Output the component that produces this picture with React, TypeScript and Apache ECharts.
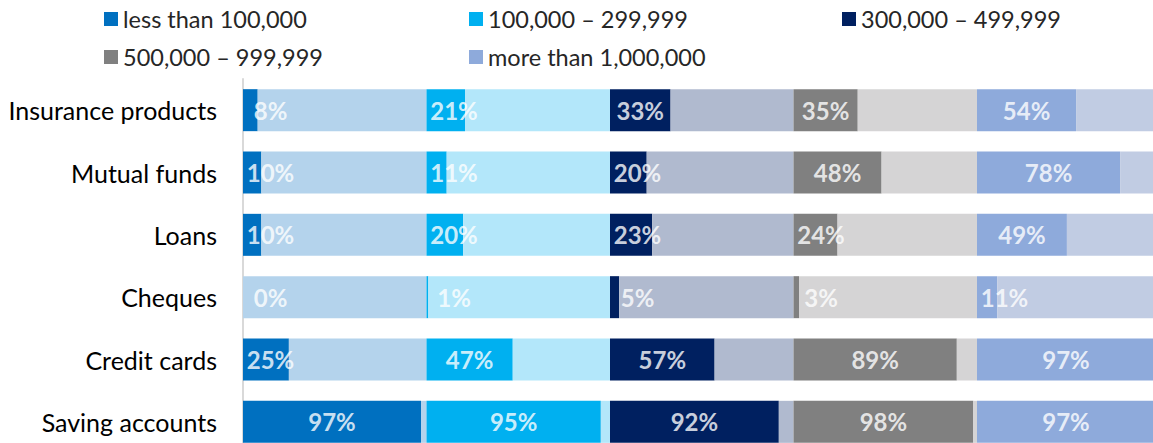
import React, { useEffect, useRef } from "react";
import * as echarts from "echarts";

const categories = [
  "Insurance products",
  "Mutual funds",
  "Loans",
  "Cheques",
  "Credit cards",
  "Saving accounts",
];

const groupNames = [
  "less than 100,000",
  "100,000 – 299,999",
  "300,000 – 499,999",
  "500,000 – 999,999",
  "more than 1,000,000",
];

const lessThan100k = [8, 10, 10, 0, 25, 97];
const from100kTo300k = [21, 11, 20, 1, 47, 95];
const from300kTo500k = [33, 20, 23, 5, 57, 92];
const from500kTo1m = [35, 48, 24, 3, 89, 98];
const moreThan1m = [54, 78, 49, 11, 97, 97];

const groupValues = [lessThan100k, from100kTo300k, from300kTo500k, from500kTo1m, moreThan1m];

const darkColors = ["#0070C0", "#00B0F0", "#002060", "#808080", "#8EAADB"];
const lightColors = ["#B4D3EC", "#B3E7FA", "#B0BACF", "#D5D4D5", "#C1CCE3"];

const legendPos = [
  { left: 104, top: 6 },
  { left: 469, top: 6 },
  { left: 842, top: 6 },
  { left: 104, top: 44 },
  { left: 469, top: 44 },
];

const FONT = "Lato, 'Noto Sans', sans-serif";

export default function App() {
  const ref = useRef<HTMLDivElement>(null);

  useEffect(() => {
    if (!ref.current) return;
    const chart = echarts.init(ref.current, undefined, { renderer: "svg" });
    const series: any[] = [];
    groupValues.forEach((vals, g) => {
      series.push({
        name: groupNames[g],
        type: "bar",
        stack: "all",
        barWidth: 42,
        data: vals,
        itemStyle: { color: darkColors[g] },
        silent: true,
      });
      series.push({
        name: "rest" + g,
        type: "bar",
        stack: "all",
        barWidth: 42,
        data: vals.map((v) => 100 - v),
        itemStyle: { color: lightColors[g] },
        silent: true,
      });
    });
    groupValues.forEach((vals, g) => {
      series.push({
        name: "label" + g,
        type: "scatter",
        symbolSize: 1,
        itemStyle: { color: "transparent" },
        silent: true,
        z: 10,
        data: vals.map((v, i) => [g * 100 + Math.max(v / 2, 15), categories[i], v]),
        label: {
          show: true,
          position: "inside",
          formatter: (p: any) => p.value[2] + "%",
          color: "#ffffff",
          fontSize: 24,
          fontWeight: "bold",
          fontFamily: FONT,
        },
      });
    });

    chart.setOption({
      animation: false,
      backgroundColor: "#ffffff",
      legend: groupNames.map((n, g) => ({
        data: [n],
        left: legendPos[g].left,
        top: legendPos[g].top,
        padding: 0,
        icon: "rect",
        itemWidth: 14,
        itemHeight: 14,
        selectedMode: false,
        textStyle: { fontSize: 23.5, fontFamily: FONT, color: "#262626", lineHeight: 26 },
      })),
      grid: { left: 243, top: 79, width: 917.5, height: 374 },
      xAxis: {
        type: "value",
        min: 0,
        max: 500,
        show: false,
      },
      yAxis: {
        type: "category",
        data: categories,
        inverse: true,
        axisLine: { show: true, lineStyle: { color: "#D9D9D9", width: 2 } },
        axisTick: { show: false },
        axisLabel: { fontSize: 25, fontFamily: FONT, color: "#000000", margin: 26 },
      },
      series,
    });
    return () => chart.dispose();
  }, []);

  return (
    <div
      style={{
        position: "fixed",
        left: 0,
        top: 0,
        width: 1153,
        height: 443,
        overflow: "hidden",
        background: "#fff",
      }}
    >
      <div ref={ref} style={{ width: 1180, height: 470 }} />
    </div>
  );
}
